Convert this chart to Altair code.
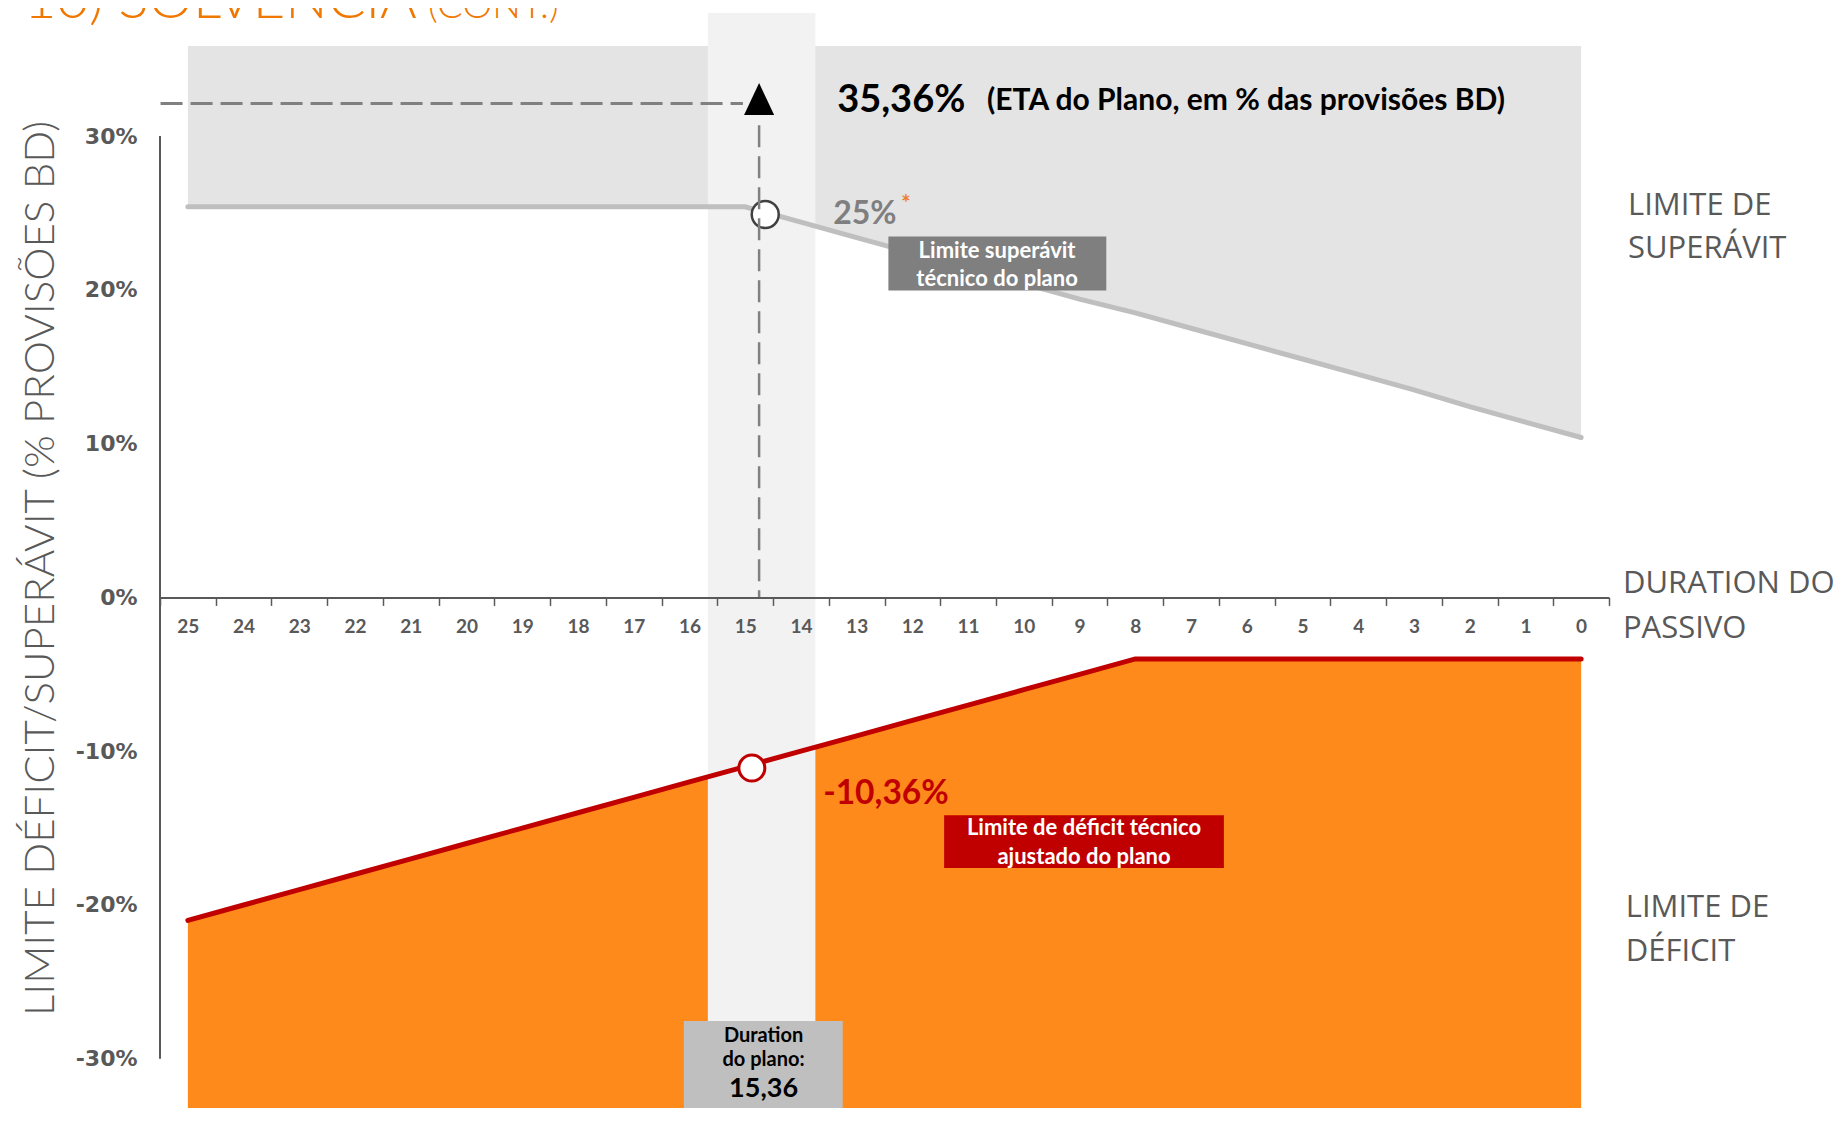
import altair as alt
import pandas as pd

# ---------------- data ----------------
durations = [25, 24, 23, 22, 21, 20, 19, 18, 17, 16, 15, 14, 13,
             12, 11, 10, 9, 8, 7, 6, 5, 4, 3, 2, 1, 0]
surplus_limit = [25.4, 25.4, 25.4, 25.4, 25.4, 25.4, 25.4, 25.4, 25.4, 25.4, 25.4,
                 24.4, 23.4, 22.4, 21.4, 20.4, 19.4, 18.5, 17.5, 16.5, 15.5,
                 14.5, 13.5, 12.4, 11.4, 10.4]
deficit_limit = [-21, -20, -19, -18, -17, -16, -15, -14, -13, -12, -11, -10, -9,
                 -8, -7, -6, -5, -4, -4, -4, -4, -4, -4, -4, -4, -4]
surplus_top = 35.85            # top of the grey "surplus" zone
y_ticks = [-30, -20, -10, 0, 10, 20, 30]
tick_positions = [25.5, 24.5, 23.5, 22.5, 21.5, 20.5, 19.5, 18.5, 17.5, 16.5, 15.5,
                  14.5, 13.5, 12.5, 11.5, 10.5, 9.5, 8.5, 7.5, 6.5, 5.5, 4.5,
                  3.5, 2.5, 1.5, 0.5, -0.5]

plan_duration_band = [15.67, 13.74]     # light vertical band around the plan duration
eta_marker = [14.75, 32.4]              # triangle (ETA do plano)
eta_hline = [25.49, 15.04, 32.12]       # x, x2, y
eta_vline = [14.75, 30.7, 0.0]          # x, y, y2
surplus_point = [14.64, 24.9]
deficit_point = [14.88, -11.1]

X_DOMAIN = [25.5, -0.5]
Y_DOMAIN = [-33.2, 38.0]
W, H = 1449, 1095

xs = alt.Scale(domain=X_DOMAIN, nice=False, zero=False)
ys = alt.Scale(domain=Y_DOMAIN, nice=False, zero=False)

y0_px = H * Y_DOMAIN[1] / (Y_DOMAIN[1] - Y_DOMAIN[0])
band_px = W / (X_DOMAIN[0] - X_DOMAIN[1])

GREY_TXT = "#595959"

x_axis = alt.Axis(
    values=tick_positions,
    labelExpr="datum.value > 0 ? format(datum.value - 0.5, 'd') : ''",
    labelOffset=band_px / 2, labelFlush=False, labelOverlap=False, labelBound=False,
    offset=-(H - y0_px), orient="bottom",
    domainColor=GREY_TXT, domainWidth=2, tickColor=GREY_TXT, tickWidth=1.5, tickSize=8,
    labelFont="Lato", labelFontWeight="bold", labelFontSize=19, labelColor=GREY_TXT,
    labelPadding=21, labelBaseline="middle", grid=False, title=None, zindex=1,
)
y_axis = alt.Axis(
    values=y_ticks, labelExpr="datum.value + '%'",
    domain=False, ticks=False, tickSize=0, grid=False,
    labelFont="DejaVu Sans", labelFontWeight="bold", labelFontSize=22, labelColor=GREY_TXT,
    labelPadding=23, labelFlush=False, labelOverlap=False,
    title="LIMITE DÉFICIT/SUPERÁVIT (% PROVISÕES BD)",
    titleX=-120, titleY=555, titleAngle=270, titleAlign="center", titleBaseline="middle",
    titleFont="Lato", titleFontWeight=300, titleFontSize=42, titleColor=GREY_TXT,
)


def X(f):
    return alt.X(f, type="quantitative", scale=xs, axis=x_axis)


def Y(f):
    return alt.Y(f, type="quantitative", scale=ys, axis=y_axis)


curves = pd.DataFrame({
    "x": durations,
    "top": [surplus_top] * len(durations),
    "sup": surplus_limit,
    "def": deficit_limit,
    "bottom": [Y_DOMAIN[0]] * len(durations),
})

grey_area = alt.Chart(curves).mark_area(color="#e4e4e4").encode(
    x=X("x"), y=Y("top"), y2=alt.Y2("sup"))
orange_area = alt.Chart(curves).mark_area(color="#fe8a1b").encode(
    x=X("x"), y=Y("def"), y2=alt.Y2("bottom"))

band_df = pd.DataFrame({"x": [plan_duration_band[0]], "x2": [plan_duration_band[1]],
                        "y": [Y_DOMAIN[1]], "y2": [Y_DOMAIN[0]]})
band = alt.Chart(band_df).mark_rect(color="#f2f2f2").encode(
    x=X("x"), x2="x2", y=Y("y"), y2="y2")

yaxis_df = pd.DataFrame({"x": [X_DOMAIN[0]], "y": [y_ticks[0]], "y2": [y_ticks[-1]]})
yaxis_line = alt.Chart(yaxis_df).mark_rule(color=GREY_TXT, strokeWidth=2).encode(
    x=X("x"), y=Y("y"), y2="y2")

sup_line = alt.Chart(curves).mark_line(color="#bfbfbf", strokeWidth=5, strokeCap="round").encode(
    x=X("x"), y=Y("sup"))
def_line = alt.Chart(curves).mark_line(color="#c00000", strokeWidth=5, strokeCap="round").encode(
    x=X("x"), y=Y("def"))

sp_df = pd.DataFrame({"x": [surplus_point[0]], "y": [surplus_point[1]]})
sp = alt.Chart(sp_df).mark_point(shape="circle", size=729, fill="white", fillOpacity=1,
                                 stroke="#404040", strokeWidth=2.5, opacity=1).encode(
    x=X("x"), y=Y("y"))
dp_df = pd.DataFrame({"x": [deficit_point[0]], "y": [deficit_point[1]]})
dp = alt.Chart(dp_df).mark_point(shape="circle", size=676, fill="white", fillOpacity=1,
                                 stroke="#c00000", strokeWidth=3, opacity=1).encode(
    x=X("x"), y=Y("y"))

hl_df = pd.DataFrame({"x": [eta_hline[0]], "x2": [eta_hline[1]], "y": [eta_hline[2]]})
hline = alt.Chart(hl_df).mark_rule(color="#808080", strokeWidth=3, strokeDash=[22, 8]).encode(
    x=X("x"), x2="x2", y=Y("y"))
vl_df = pd.DataFrame({"x": [eta_vline[0]], "y": [eta_vline[1]], "y2": [eta_vline[2]]})
vline = alt.Chart(vl_df).mark_rule(color="#808080", strokeWidth=2.5, strokeDash=[22, 9]).encode(
    x=X("x"), y=Y("y"), y2="y2")

tri_df = pd.DataFrame({"x": [eta_marker[0]], "y": [eta_marker[1]]})
tri = alt.Chart(tri_df).mark_point(shape="M0,-1L-0.94,1L0.94,1Z", size=1024, filled=True,
                                   color="black", opacity=1).encode(x=X("x"), y=Y("y"))

# annotation boxes
boxes_df = pd.DataFrame({
    "x": [12.43, 11.43, 16.1],
    "x2": [8.52, 6.41, 13.25],
    "y": [23.47, -14.17, -27.54],
    "y2": [19.95, -17.59, Y_DOMAIN[0]],
    "c": ["#7f7f7f", "#c00000", "#bfbfbf"],
})
boxes = alt.Chart(boxes_df).mark_rect().encode(
    x=X("x"), x2="x2", y=Y("y"), y2="y2", color=alt.Color("c:N", scale=None))


def text_layer(rows, **kw):
    df = pd.DataFrame(rows, columns=["x", "y", "text"])
    return alt.Chart(df).mark_text(**kw).encode(x=X("x"), y=Y("y"), text="text:N")


eta_big = text_layer([[13.35, 32.3, "35,36%"]], align="left", baseline="middle",
                     font="Lato", fontWeight="bold", fontSize=38, color="black")
eta_small = text_layer([[10.66, 32.3, "(ETA do Plano, em % das provisões BD)"]], align="left",
                       baseline="middle", font="Lato", fontWeight="bold", fontSize=30, color="black")
sup_val = text_layer([[13.42, 24.9, "25%"]], align="left", baseline="middle",
                     font="Lato", fontWeight="bold", fontSize=32, color="#7f7f7f")
star = text_layer([[12.2, 25.6, "*"]], align="left", baseline="middle",
                  font="Lato", fontWeight="bold", fontSize=22, color="#ed7d31")
def_val = text_layer([[13.6, -12.78, "-10,36%"]], align="left", baseline="middle",
                     font="Lato", fontWeight="bold", fontSize=33.5, color="#c00000")
box_txt = text_layer([[10.48, 22.55, "Limite superávit"], [10.48, 20.7, "técnico do plano"],
                      [8.92, -14.99, "Limite de déficit técnico"], [8.92, -16.87, "ajustado do plano"]],
                     align="center", baseline="middle", font="Lato", fontWeight="bold",
                     fontSize=22, color="white")
dur_txt = text_layer([[14.67, -28.52, "Duration"], [14.67, -30.08, "do plano:"]],
                     align="center", baseline="middle", font="Lato", fontWeight="bold",
                     fontSize=20, color="black")
dur_val = text_layer([[14.67, -31.96, "15,36"]], align="center", baseline="middle",
                     font="Lato", fontWeight="bold", fontSize=27, color="black")
side_txt = text_layer([[-0.84, 25.45, "LIMITE DE"], [-0.84, 22.66, "SUPERÁVIT"],
                       [-0.75, 0.88, "DURATION DO"], [-0.75, -2.08, "PASSIVO"],
                       [-0.80, -20.19, "LIMITE DE"], [-0.80, -23.05, "DÉFICIT"]],
                      align="left", baseline="middle", font="Open Sans", fontSize=31,
                      color=GREY_TXT)

title_df = pd.DataFrame({"text": ["10) SOLVÊNCIA"]})
title_big = alt.Chart(title_df).mark_text(align="left", baseline="alphabetic", font="Lato",
                                          fontWeight=300, fontSize=56, color="#f07800").encode(
    x=alt.value(-136), y=alt.value(5), text="text:N")
title2_df = pd.DataFrame({"text": ["(CONT.)"]})
title_small = alt.Chart(title2_df).mark_text(align="left", baseline="alphabetic", font="Lato",
                                             fontWeight=300, fontSize=38, color="#f07800").encode(
    x=alt.value(268), y=alt.value(5), text="text:N")

chart = alt.layer(
    grey_area, orange_area, band, yaxis_line, sup_line, def_line, sp, dp, vline, hline, tri,
    boxes, eta_big, eta_small, sup_val, star, def_val, box_txt, dur_txt, dur_val, side_txt,
    title_big, title_small,
).properties(
    width=W, height=H,
    padding={"left": 152, "top": 5, "right": 228, "bottom": 0},
    autosize=alt.AutoSizeParams(type="none"),
).configure_view(stroke=None)

chart.save("out.html", embed_options={"renderer": "svg", "actions": False})
